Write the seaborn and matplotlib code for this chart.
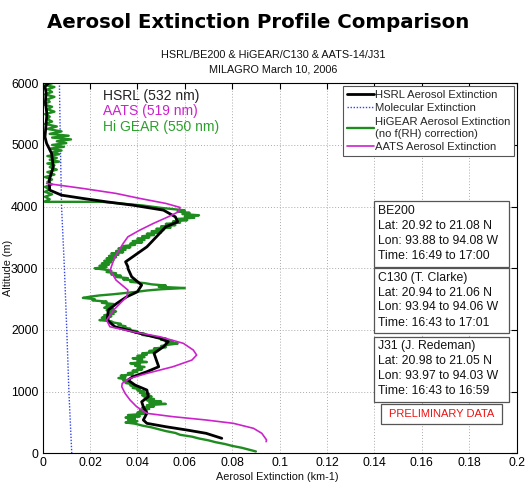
import matplotlib
matplotlib.use("Agg")
import matplotlib.pyplot as plt
import seaborn as sns
import numpy as np
from matplotlib.patches import Rectangle

# ---------------- data ----------------
hsrl_alt = [6000, 5950, 5850, 5700, 5500, 5300, 5130, 5025, 4862, 4645, 4430, 4268, 4186,
            4133, 4078, 4024, 3943, 3835, 3754, 3673, 3510, 3348, 3186, 3105, 3024, 2998,
            2862, 2728, 2619, 2538, 2431, 2323, 2160, 2052, 1945, 1864, 1810, 1728, 1621,
            1512, 1404, 1323, 1241, 1188, 1107, 1026, 917, 836, 755, 648, 540, 486, 431,
            378, 324, 243]
hsrl_ext = [0.0025, 0.0010, 0.0015, 0.0012, 0.0018, 0.0014, 0.0010, 0.0017, 0.0038, 0.0045,
            0.0028, 0.0030, 0.0080, 0.0170, 0.0270, 0.0380, 0.0510, 0.0560, 0.0570, 0.0520,
            0.0480, 0.0440, 0.0380, 0.0350, 0.0360, 0.0360, 0.0376, 0.0418, 0.0400, 0.0355,
            0.0313, 0.0277, 0.0273, 0.0305, 0.0410, 0.0495, 0.0530, 0.0510, 0.0470, 0.0480,
            0.0490, 0.0440, 0.0380, 0.0360, 0.0390, 0.0440, 0.0446, 0.0418, 0.0425, 0.0440,
            0.0425, 0.0440, 0.0520, 0.0608, 0.0690, 0.0756]

aats_alt = [4376, 4295, 4214, 4133, 4052, 3987, 3916, 3835, 3727, 3619, 3511, 3403, 3186,
            2970, 2808, 2647, 2538, 2431, 2323, 2160, 2052, 1972, 1890, 1783, 1674, 1593,
            1512, 1404, 1296, 1215, 1134, 1080, 972, 864, 755, 648, 594, 540, 486, 405, 324,
            216, 188]
aats_ext = [0.0017, 0.0170, 0.0310, 0.0410, 0.0520, 0.0580, 0.0573, 0.0530, 0.0467, 0.0410,
            0.0360, 0.0340, 0.0305, 0.0285, 0.0310, 0.0360, 0.0355, 0.0327, 0.0300, 0.0270,
            0.0284, 0.0380, 0.0495, 0.0594, 0.0636, 0.0650, 0.0630, 0.0550, 0.0440, 0.0369,
            0.0336, 0.0334, 0.0348, 0.0369, 0.0397, 0.0440, 0.0550, 0.0690, 0.0805, 0.0890,
            0.0925, 0.0945, 0.0943]

higear_alt = [6000, 5970, 5940, 5900, 5860, 5820, 5780, 5740, 5700, 5660, 5620, 5580, 5540,
              5500, 5460, 5420, 5380, 5340, 5300, 5260, 5220, 5180, 5150, 5120, 5090, 5060,
              5030, 5000, 4970, 4940, 4910, 4880, 4850, 4820, 4790, 4760, 4730, 4700, 4670,
              4640, 4600, 4560, 4520, 4480, 4440, 4400, 4360, 4320, 4280, 4240, 4200, 4160,
              4120, 4085, 4078, 4078, 4060, 4040, 4020, 4000, 3980, 3960, 3940, 3920, 3900,
              3880, 3860, 3840, 3820, 3800, 3780, 3760, 3740, 3720, 3700, 3680, 3660, 3640,
              3620, 3600, 3580, 3560, 3540, 3520, 3500, 3480, 3460, 3440, 3420, 3400, 3380,
              3360, 3340, 3320, 3300, 3280, 3260, 3240, 3220, 3200, 3180, 3160, 3140, 3120,
              3100, 3080, 3060, 3040, 3020, 3000, 2980, 2960, 2940, 2920, 2900, 2880, 2860,
              2840, 2820, 2800, 2780, 2760, 2740, 2720, 2700, 2680, 2660, 2640, 2620, 2600,
              2580, 2560, 2540, 2520, 2500, 2480, 2460, 2440, 2420, 2400, 2380, 2360, 2340,
              2320, 2300, 2280, 2260, 2240, 2220, 2200, 2180, 2160, 2140, 2120, 2100, 2080,
              2060, 2040, 2020, 2000, 1980, 1960, 1940, 1920, 1900, 1880, 1860, 1840, 1820,
              1800, 1780, 1760, 1740, 1720, 1700, 1680, 1660, 1640, 1620, 1600, 1580, 1560,
              1540, 1520, 1500, 1480, 1460, 1440, 1420, 1400, 1380, 1360, 1340, 1320, 1300,
              1280, 1260, 1240, 1220, 1200, 1180, 1160, 1140, 1120, 1100, 1080, 1060, 1040,
              1020, 1000, 980, 960, 940, 920, 900, 880, 860, 840, 820, 800, 780, 760, 740,
              720, 700, 680, 660, 640, 620, 600, 580, 560, 540, 520, 500, 480, 450, 420, 390,
              360, 330, 300, 270, 240, 210, 180, 150, 120, 90, 60, 30]
higear_ext = [0.004, 0.001, 0.005, 0.002, 0.004, 0.001, 0.005, 0.002, 0.003, 0.000, 0.004,
              0.002, 0.005, 0.001, 0.003, 0.002, 0.004, 0.001, 0.006, 0.002, 0.008, 0.003,
              0.011, 0.004, 0.012, 0.006, 0.010, 0.004, 0.009, 0.003, 0.008, 0.004, 0.007,
              0.002, 0.006, 0.003, 0.007, 0.002, 0.005, 0.003, 0.006, 0.002, 0.005, 0.001,
              0.004, 0.002, 0.004, 0.001, 0.003, 0.001, 0.004, 0.001, 0.003, 0.001, 0.001,
              0.025, 0.030, 0.036, 0.042, 0.046, 0.050, 0.055, 0.060, 0.057, 0.062, 0.059,
              0.066, 0.060, 0.064, 0.057, 0.061, 0.055, 0.058, 0.052, 0.056, 0.050, 0.054,
              0.048, 0.051, 0.046, 0.050, 0.044, 0.047, 0.042, 0.045, 0.040, 0.043, 0.038,
              0.042, 0.037, 0.039, 0.034, 0.037, 0.032, 0.035, 0.031, 0.034, 0.029, 0.032,
              0.028, 0.031, 0.027, 0.030, 0.026, 0.029, 0.025, 0.028, 0.024, 0.027, 0.022,
              0.026, 0.029, 0.027, 0.031, 0.029, 0.033, 0.031, 0.036, 0.034, 0.039, 0.037,
              0.043, 0.046, 0.052, 0.049, 0.060, 0.050, 0.044, 0.040, 0.035, 0.030, 0.024,
              0.020, 0.017, 0.022, 0.021, 0.027, 0.025, 0.030, 0.027, 0.029, 0.026, 0.030,
              0.027, 0.031, 0.028, 0.030, 0.026, 0.029, 0.025, 0.028, 0.024, 0.029, 0.030,
              0.033, 0.032, 0.035, 0.034, 0.037, 0.036, 0.040, 0.039, 0.043, 0.042, 0.046,
              0.048, 0.052, 0.050, 0.055, 0.052, 0.057, 0.053, 0.050, 0.052, 0.047, 0.049,
              0.045, 0.047, 0.042, 0.044, 0.040, 0.043, 0.038, 0.042, 0.040, 0.044, 0.037,
              0.041, 0.039, 0.043, 0.040, 0.042, 0.038, 0.040, 0.036, 0.038, 0.033, 0.035,
              0.032, 0.035, 0.034, 0.037, 0.035, 0.038, 0.037, 0.040, 0.038, 0.041, 0.040,
              0.043, 0.041, 0.045, 0.042, 0.046, 0.043, 0.047, 0.044, 0.050, 0.045, 0.052,
              0.044, 0.047, 0.042, 0.045, 0.041, 0.044, 0.040, 0.043, 0.036, 0.041, 0.035,
              0.039, 0.036, 0.040, 0.035, 0.039, 0.042, 0.046, 0.049, 0.052, 0.056, 0.058,
              0.063, 0.066, 0.070, 0.073, 0.077, 0.080, 0.084, 0.087, 0.090]

mol_alt = [0, 1000, 2000, 3000, 4000, 5000, 6000]
mol_ext = [0.0123, 0.0111, 0.0102, 0.0092, 0.0080, 0.0075, 0.0071]

x_ticks = [0, 0.02, 0.04, 0.06, 0.08, 0.1, 0.12, 0.14, 0.16, 0.18, 0.2]
x_tick_labels = ["0", "0.02", "0.04", "0.06", "0.08", "0.1", "0.12", "0.14", "0.16", "0.18", "0.2"]
y_ticks = [0, 1000, 2000, 3000, 4000, 5000, 6000]

info_boxes = [
    ["BE200", "Lat: 20.92 to 21.08 N", "Lon: 93.88 to 94.08 W", "Time: 16:49 to 17:00"],
    ["C130 (T. Clarke)", "Lat: 20.94 to 21.06 N", "Lon: 93.94 to 94.06 W", "Time: 16:43 to 17:01"],
    ["J31 (J. Redeman)", "Lat: 20.98 to 21.05 N", "Lon: 93.97 to 94.03 W", "Time: 16:43 to 16:59"],
]

# ---------------- figure ----------------
sns.set_theme(style="white")
plt.rcParams['font.family'] = ['Liberation Sans', 'DejaVu Sans']

W, H = 528, 490
fig = plt.figure(figsize=(W / 100, H / 100), dpi=100)
fig.patch.set_facecolor("white")

def fx(px):
    return px / W

def fy(py):
    return 1 - py / H

ax_l, ax_r, ax_t, ax_b = 42.6, 516.6, 83.3, 453.3
ax = fig.add_axes([fx(ax_l), fy(ax_b), (ax_r - ax_l) / W, (ax_b - ax_t) / H])

green = "#1e8c1e"
magenta = "#cc22cc"

sns.lineplot(x=mol_ext, y=mol_alt, sort=False, estimator=None, ax=ax,
             color="#3344ee", linestyle=(0, (1, 1.2)), linewidth=1.0, label="Molecular Extinction")
sns.lineplot(x=higear_ext, y=higear_alt, sort=False, estimator=None, ax=ax,
             color=green, linewidth=1.7, label="HiGEAR Aerosol Extinction\n(no f(RH) correction)")
sns.lineplot(x=hsrl_ext, y=hsrl_alt, sort=False, estimator=None, ax=ax,
             color="black", linewidth=2.0, label="HSRL Aerosol Extinction")
sns.lineplot(x=aats_ext, y=aats_alt, sort=False, estimator=None, ax=ax,
             color=magenta, linewidth=1.2, label="AATS Aerosol Extinction")

ax.set_xlim(0, 0.2)
ax.set_ylim(0, 6000)
ax.set_xticks(x_ticks)
ax.set_xticklabels(x_tick_labels)
ax.set_yticks(y_ticks)
ax.grid(True, linestyle=(0, (1, 2)), color="#aaaaaa", linewidth=0.7)
ax.tick_params(direction="in", length=4, width=0.8, labelsize=8.8, colors="black",
               top=True, right=True, pad=3)
for s in ax.spines.values():
    s.set_visible(True)
    s.set_color("black")
    s.set_linewidth(0.8)
ax.set_xlabel("")
ax.set_ylabel("")

# legend
handles, labels = ax.get_legend_handles_labels()
order = ["HSRL Aerosol Extinction", "Molecular Extinction",
         "HiGEAR Aerosol Extinction\n(no f(RH) correction)", "AATS Aerosol Extinction"]
hmap = dict(zip(labels, handles))
leg = ax.legend([hmap[o] for o in order], order, loc="upper right",
                bbox_to_anchor=(0.9955, 0.993), borderaxespad=0, fontsize=8.1,
                handlelength=2.4, handletextpad=0.1, labelspacing=0.32,
                borderpad=0.35, frameon=True, fancybox=False, framealpha=1)
leg.get_frame().set_edgecolor("#555555")
leg.get_frame().set_linewidth(0.8)

# in-plot labels
ax.text(fx(103), fy(96), "HSRL (532 nm)", transform=fig.transFigure, fontsize=10,
        color="#222222", va="center")
ax.text(fx(103), fy(111.5), "AATS (519 nm)", transform=fig.transFigure, fontsize=10,
        color=magenta, va="center")
ax.text(fx(103), fy(127), "Hi GEAR (550 nm)", transform=fig.transFigure, fontsize=10,
        color="#2ca02c", va="center")

# info boxes
box_tops = [201, 268, 336.5]
box_h = 65.5
for top, lines in zip(box_tops, info_boxes):
    fig.patches.append(Rectangle((fx(374), fy(top + box_h)), (509 - 374) / W, box_h / H,
                                 transform=fig.transFigure, facecolor="white",
                                 edgecolor="#555555", linewidth=0.9, zorder=5))
    for i, line in enumerate(lines):
        fig.text(fx(378), fy(top + 9.5 + i * 15), line, fontsize=8.8, color="#111111",
                 va="center", ha="left", zorder=6)

fig.patches.append(Rectangle((fx(381), fy(424)), (502 - 381) / W, 20 / H,
                             transform=fig.transFigure, facecolor="white",
                             edgecolor="#555555", linewidth=0.9, zorder=5))
fig.text(fx(441.5), fy(414), "PRELIMINARY DATA", fontsize=8, color="#ee1111",
         ha="center", va="center", zorder=6)

# titles and axis labels
fig.text(fx(258), fy(22), "Aerosol Extinction Profile Comparison", fontsize=14.2,
         fontweight="bold", family="DejaVu Sans", ha="center", va="center", color="black")
fig.text(fx(273), fy(55), "HSRL/BE200 & HiGEAR/C130 & AATS-14/J31", fontsize=7.8,
         ha="center", va="center", color="#111111")
fig.text(fx(273), fy(69.5), "MILAGRO March 10, 2006", fontsize=7.8,
         ha="center", va="center", color="#111111")
fig.text(fx(277), fy(477), "Aerosol Extinction (km-1)", fontsize=7.8,
         ha="center", va="center", color="#111111")
fig.text(fx(8), fy(268), "Altitude (m)", fontsize=7.8, rotation=90,
         ha="center", va="center", color="#111111")

fig.savefig("out.png", dpi=100, facecolor="white")
